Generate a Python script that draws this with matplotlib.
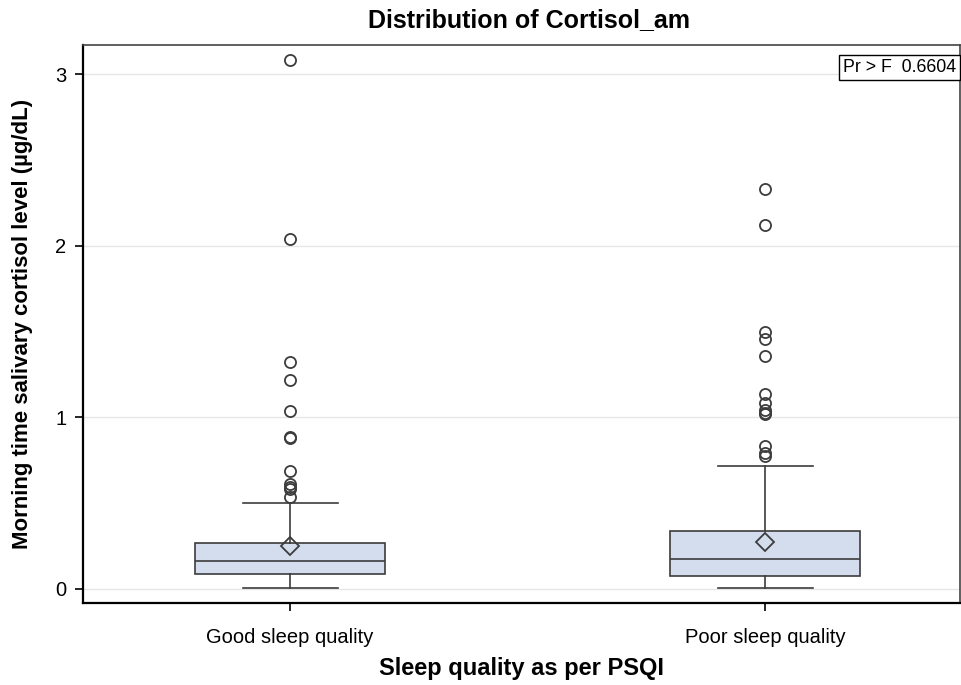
import matplotlib.pyplot as plt

plt.rcParams['font.family'] = ['Liberation Sans', 'DejaVu Sans']

groups = ["Good sleep quality", "Poor sleep quality"]
q1 = [0.087, 0.076]
median = [0.163, 0.175]
q3 = [0.266, 0.338]
mean = [0.252, 0.275]
whislo = [0.004, 0.006]
whishi = [0.50, 0.716]
outliers_good = [3.08, 2.04, 1.32, 1.22, 1.037, 0.885, 0.879, 0.686, 0.61, 0.596, 0.585, 0.537]
outliers_poor = [2.333, 2.12, 1.495, 1.456, 1.357, 1.134, 1.082, 1.042, 1.027, 1.02, 0.833, 0.79, 0.775]
p_value = 0.6604

stats = []
for i, g in enumerate(groups):
    stats.append(dict(label=g, q1=q1[i], med=median[i], q3=q3[i], mean=mean[i],
                      whislo=whislo[i], whishi=whishi[i],
                      fliers=[outliers_good, outliers_poor][i]))

edge = "#3c3c3c"
fig = plt.figure(figsize=(9.61, 6.85), dpi=100)
ax = fig.add_axes([0.0864, 0.1197, 0.9126, 0.8143])

ax.bxp(stats, positions=[1, 2], widths=0.40, patch_artist=True, showmeans=True,
       boxprops=dict(facecolor="#d3ddee", edgecolor=edge, linewidth=1.2),
       medianprops=dict(color=edge, linewidth=1.2),
       whiskerprops=dict(color=edge, linewidth=1.2),
       capprops=dict(color=edge, linewidth=1.2),
       capwidths=0.2,
       flierprops=dict(marker="o", markerfacecolor="none", markeredgecolor=edge,
                       markersize=8, markeredgewidth=1.3),
       meanprops=dict(marker="D", markerfacecolor="none", markeredgecolor=edge,
                      markersize=9, markeredgewidth=1.3))

ax.set_xlim(0.564, 2.41)
ax.set_ylim(-0.082, 3.168)
ax.set_yticks([0, 1, 2, 3])
ax.set_yticklabels(["0", "1", "2", "3"])
ax.yaxis.grid(True, color="#e6e6e6", linewidth=1)
ax.set_axisbelow(True)
ax.tick_params(axis="y", direction="out", length=6, width=1.2, labelsize=14.5,
               colors="black", pad=6)
ax.tick_params(axis="x", direction="out", length=6, width=1.2, labelsize=14.5,
               colors="black", pad=12)

for s in ["left", "bottom"]:
    ax.spines[s].set_linewidth(1.6)
    ax.spines[s].set_color("black")
for s in ["top", "right"]:
    ax.spines[s].set_linewidth(1.2)
    ax.spines[s].set_color("#444444")

ax.set_title("Distribution of Cortisol_am", fontsize=18, fontweight="bold", pad=13, x=0.508)
ax.set_xlabel("Sleep quality as per PSQI", fontsize=17, fontweight="bold", labelpad=7)
ax.set_ylabel("Morning time salivary cortisol level (\u00b5g/dL)", fontsize=16,
              fontweight="bold", labelpad=16)

ax.text(0.996, 0.975, f"Pr > F  {p_value:.4f}", transform=ax.transAxes, ha="right", va="top",
        fontsize=12.8, bbox=dict(boxstyle="square,pad=0.22", facecolor="white", edgecolor="black", linewidth=1))

fig.savefig("out.png", dpi=100)
